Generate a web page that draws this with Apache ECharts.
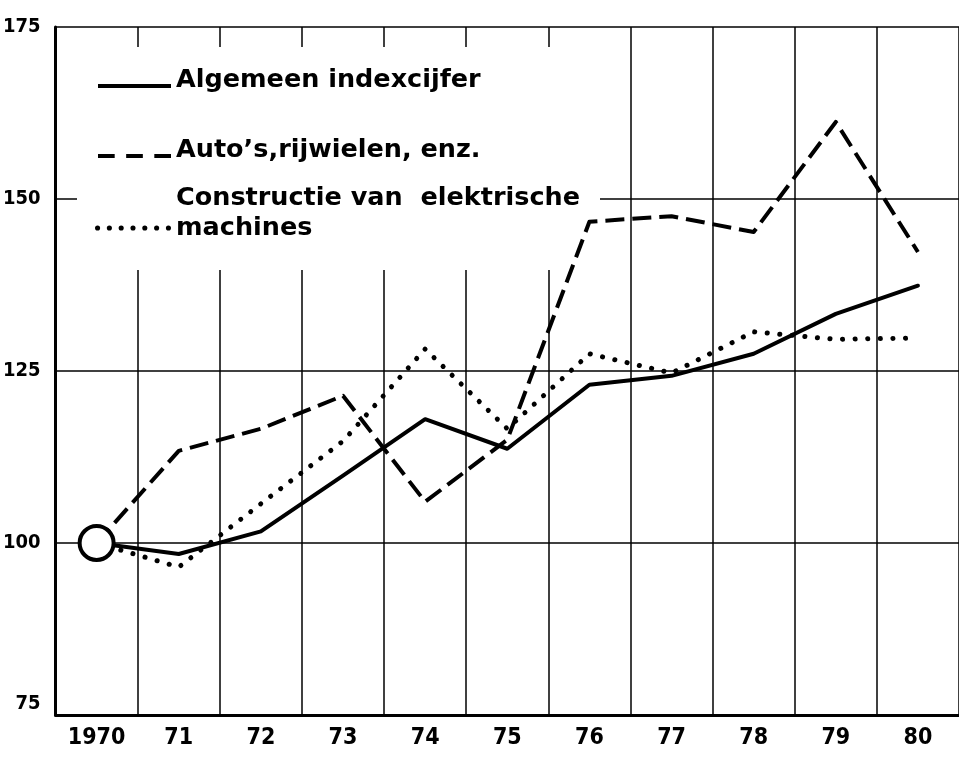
<!DOCTYPE html>
<html>
<head>
<meta charset="utf-8">
<title>Indexcijfers 1970-1980</title>
<script src="https://cdn.jsdelivr.net/npm/echarts@6/dist/echarts.min.js"></script>
<style>
html, body { margin: 0; padding: 0; background: #fff; }
#main { width: 959px; height: 757px; }
</style>
</head>
<body>
<div id="main"></div>
<script>
// jaren op de x-as
var jaren = ['1970', '71', '72', '73', '74', '75', '76', '77', '78', '79', '80'];
// indexcijfers (1970 = 100)
var algemeen = [100, 98.4, 101.7, 109.8, 118.0, 113.7, 123.0, 124.3, 127.5, 133.3, 137.4];
var autos = [100, 113.4, 116.6, 121.4, 106.0, 115.0, 146.7, 147.5, 145.2, 161.2, 142.3];
var elektrisch = [100, 96.5, 105.7, 114.8, 128.2, 116.6, 127.5, 124.7, 130.7, 129.6, 129.8];
var yTicks = [75, 100, 125, 150, 175];

var naamAlg = 'Algemeen indexcijfer';
var naamAuto = 'Auto\u2019s,rijwielen, enz.';
var naamElek = 'Constructie van elektrische machines';

var tickFont = "'DejaVu Sans Condensed', 'Liberation Sans Narrow', sans-serif";
var legFont = "'DejaVu Sans', sans-serif";

// legenda-symbolen: lijn, streepjes, puntjes
var iconLijn = 'path://M0,0h70v4h-70z';
var iconStreep = 'path://M0,0h16v4h-16z M27,0h16v4h-16z M54,0h16v4h-16z';
var iconPunt = 'path://';
for (var i = 0; i < 7; i++) {
    var cx = 2.5 + i * 11.5;
    iconPunt += 'M' + (cx - 2.5) + ',2.5a2.5,2.5 0 1,0 5,0a2.5,2.5 0 1,0 -5,0z ';
}

var legRich = {
    a: { fontFamily: legFont, fontWeight: 'bold', fontSize: 25.5, lineHeight: 30, color: '#000', padding: [0, 0, 12, 0] }
};

function maakLegenda(naam, icon, left, top, w) {
    return {
        data: [{ name: naam, icon: icon }],
        left: left, top: top, itemWidth: w, itemHeight: 14, itemGap: 0, padding: 0,
        selectedMode: false,
        itemStyle: { color: '#000' },
        formatter: function (n) { return '{a|' + n + '}'; },
        textStyle: { rich: legRich }
    };
}

var leg3 = maakLegenda(naamElek, iconPunt, 95, 183, 76);
leg3.formatter = function () { return 'Constructie van  elektrische\nmachines\n '; };
leg3.textStyle = { fontFamily: legFont, fontWeight: 'bold', fontSize: 25.5, lineHeight: 30, color: '#000' };

var myechart = echarts.init(document.getElementById('main'));
myechart.setOption({
    animation: false,
    backgroundColor: '#fff',
    grid: { left: 55, right: -4, top: 27, bottom: 42 },
    // wit vlak achter de legenda (onderbreekt het raster)
    graphic: [{
        type: 'rect',
        z: 1,
        silent: true,
        shape: { x: 77, y: 47, width: 523, height: 223 },
        style: { fill: '#fff' }
    }],
    legend: [
        maakLegenda(naamAlg, iconLijn, 98, 67, 73),
        maakLegenda(naamAuto, iconStreep, 98, 137, 73),
        leg3
    ],
    xAxis: {
        type: 'category',
        data: jaren,
        boundaryGap: true,
        axisLine: { lineStyle: { color: '#000', width: 3 } },
        axisTick: { show: false },
        axisLabel: {
            interval: 0, margin: 12, color: '#000',
            fontFamily: tickFont, fontWeight: 'bold', fontSize: 23
        },
        splitLine: { show: true, interval: 0, lineStyle: { color: '#000', width: 1.5 } }
    },
    yAxis: {
        type: 'value',
        min: yTicks[0],
        max: yTicks[yTicks.length - 1],
        interval: 25,
        axisLine: { show: true, lineStyle: { color: '#000', width: 3 } },
        axisTick: { show: false },
        axisLabel: {
            margin: 15,
            formatter: function (v) { return v === yTicks[0] ? '{lo|' + v + '}' : '{n|' + v + '}'; },
            rich: {
                n: { fontFamily: tickFont, fontWeight: 'bold', fontSize: 20, color: '#000' },
                lo: { fontFamily: tickFont, fontWeight: 'bold', fontSize: 20, color: '#000', padding: [0, 0, 22, 0] }
            }
        },
        splitLine: { lineStyle: { color: '#000', width: 1.5 } }
    },
    series: [
        {
            name: naamAlg, type: 'line', data: algemeen, symbol: 'none', z: 3, color: '#000',
            lineStyle: { color: '#000', width: 4, cap: 'round', join: 'round' }
        },
        {
            name: naamAuto, type: 'line', data: autos, symbol: 'none', z: 3, color: '#000',
            lineStyle: { color: '#000', width: 4, type: [19, 8], cap: 'butt', join: 'round' }
        },
        {
            name: naamElek, type: 'line', data: elektrisch, symbol: 'none', z: 3, color: '#000',
            lineStyle: { color: '#000', width: 5, type: [0.1, 12.5], cap: 'round', join: 'round' }
        },
        {
            // basisjaar 1970 = 100
            name: 'basis', type: 'scatter', z: 4, silent: true,
            data: [[jaren[0], algemeen[0]]],
            symbolSize: 34,
            itemStyle: { color: '#fff', borderColor: '#000', borderWidth: 4, opacity: 1 }
        }
    ]
});
</script>
</body>
</html>
